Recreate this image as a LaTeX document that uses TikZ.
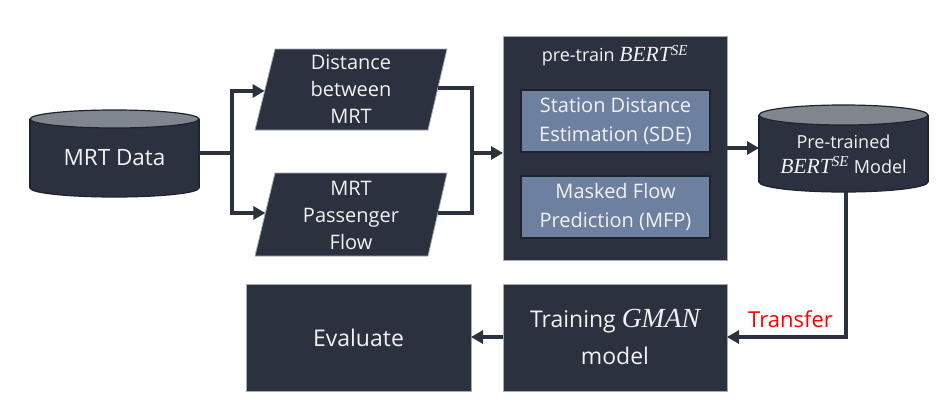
\documentclass[tikz,border=0pt]{standalone}
\usepackage{fontspec}
\setmainfont{Open Sans}
\newfontfamily\mfont[Scale=1.2]{Liberation Serif}
\newcommand\mvar[1]{{\mfont\itshape #1}}
\newcommand\bertse{\mvar{BERT}\textsuperscript{\mvar{SE}}}
\usetikzlibrary{arrows.meta}
\definecolor{darkbg}{HTML}{2B313E}
\definecolor{slate}{HTML}{6E809F}
\definecolor{topgray}{HTML}{7F868E}
\definecolor{edgedark}{HTML}{1E232D}
\definecolor{edgelight}{HTML}{A4AAB2}
\definecolor{txt}{HTML}{F2F2F2}
\tikzset{
  conn/.style={draw=darkbg, line width=3.3pt, -{Triangle[length=12pt,width=13pt]}},
  plainconn/.style={draw=darkbg, line width=3.3pt},
  darkbox/.style={fill=darkbg, draw=edgelight, line width=0.8pt},
  innerbox/.style={fill=slate, draw=edgedark, line width=1.6pt},
  cylbody/.style={fill=darkbg, draw=edgedark, line width=1.2pt},
  cyltop/.style={fill=topgray, draw=edgedark, line width=1.2pt},
  label/.style={text=txt, align=center, inner sep=0pt},
}
\begin{document}
\begin{tikzpicture}[x=1pt,y=-1pt]
\useasboundingbox (0,0) rectangle (949,415);
\fill[white] (0,0) rectangle (949,415);

% ---- cylinder 1: MRT Data
\fill[cylbody] (114.5,188) ellipse [x radius=84.5pt, y radius=9pt];
\fill[darkbg] (30,119) rectangle (199,188);
\draw[draw=edgedark, line width=1.2pt] (30,119) -- (30,188);
\draw[draw=edgedark, line width=1.2pt] (199,119) -- (199,188);
\filldraw[cyltop] (114.5,119) ellipse [x radius=84.5pt, y radius=9pt];
\node[label, font=\fontsize{22.5}{27}\selectfont] (mrt) at (114.5,158) {MRT Data};
\coordinate (mrtout) at (199,153);

% ---- parallelograms
\filldraw[darkbox] (255,130) -- (275,49) -- (447,49) -- (428,130) -- cycle;
\node[label, font=\fontsize{20}{27}\selectfont] (dist) at (351,89) {Distance\\between\\MRT};
\filldraw[darkbox] (255,256) -- (275,173) -- (447,173) -- (428,256) -- cycle;
\node[label, font=\fontsize{20}{27}\selectfont] (flow) at (351,215) {MRT\\Passenger\\Flow};
\coordinate (distin) at (264.6,91);
\coordinate (flowin) at (265.4,213);
\coordinate (distout) at (437.9,88);
\coordinate (flowout) at (437.8,213);

% ---- big pre-train box
\filldraw[darkbox] (503,36) rectangle (727,260);
\node[label, font=\fontsize{18}{22}\selectfont] (ptitle) at (615,56) {pre-train \bertse};
\filldraw[innerbox] (521,90) rectangle (710,152);
\node[label, font=\fontsize{20}{29}\selectfont] (sde) at (615.5,121) {Station Distance\\Estimation (SDE)};
\filldraw[innerbox] (521,176) rectangle (710,238);
\node[label, font=\fontsize{20}{29}\selectfont] (mfp) at (615.5,207) {Masked Flow\\Prediction (MFP)};
\coordinate (bigin) at (503,153);
\coordinate (bigout) at (727,148);

% ---- cylinder 2: pre-trained model
\fill[cylbody] (843.5,182) ellipse [x radius=84.5pt, y radius=10pt];
\fill[darkbg] (759,115) rectangle (928,182);
\draw[draw=edgedark, line width=1.2pt] (759,115) -- (759,182);
\draw[draw=edgedark, line width=1.2pt] (928,115) -- (928,182);
\filldraw[cyltop] (843.5,115) ellipse [x radius=84.5pt, y radius=10pt];
\node[label, font=\fontsize{18}{25}\selectfont] (pre) at (843.5,154) {Pre-trained\\\bertse\ Model};
\coordinate (prein) at (759,148);
\coordinate (preout) at (846,192);

% ---- bottom boxes
\filldraw[darkbox] (503,284) rectangle (727,391);
\node[label, font=\fontsize{23}{37}\selectfont] (gman) at (615,337) {Training \mvar{GMAN}\\model};
\filldraw[darkbox] (246,284) rectangle (471,391);
\node[label, font=\fontsize{23}{28}\selectfont] (eval) at (358.5,338) {Evaluate};
\coordinate (gmanin) at (727,337);
\coordinate (gmanout) at (503,337);
\coordinate (evalin) at (471,337);

% ---- connectors
\coordinate (br) at (232,153);
\draw[plainconn] (mrtout) -- (br);
\draw[conn] (br) |- (distin);
\draw[conn] (br) |- (flowin);
\coordinate (mg) at (472,153);
\draw[plainconn] (distout) -| (mg);
\draw[plainconn] (flowout) -| (mg);
\draw[conn] (mg) -- (bigin);
\draw[conn] (bigout) -- (prein);
\draw[conn] (preout) |- (gmanin);
\node[text=red, font=\fontsize{22}{26}\selectfont, inner sep=0pt] (transfer) at (790.5,319) {Transfer};
\draw[conn] (gmanout) -- (evalin);
\end{tikzpicture}
\end{document}
